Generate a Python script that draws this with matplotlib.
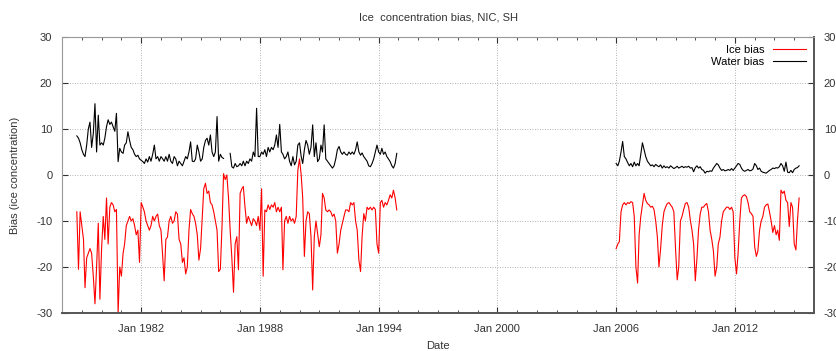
import numpy as np
import pandas as pd
import matplotlib
matplotlib.use("Agg")
import matplotlib.pyplot as plt
import matplotlib.dates as mdates

plt.rcParams["font.family"] = ["Liberation Sans", "DejaVu Sans"]
plt.rcParams["axes.unicode_minus"] = False

nan = np.nan

# Monthly values, first block Oct 1978 - Dec 1994
water_1 = [
    8.5, 8.0, 7.0,                                                   # 1978 Oct-Dec
    5.5, 4.5, 4.0, 6.5, 10.0, 11.5, 6.0, 9.0, 15.5, 5.0, 13.0, 6.5,  # 1979
    7.0, 6.5, 8.0, 10.5, 12.0, 11.0, 11.5, 10.5, 9.5, 13.4, 2.9, 5.8,  # 1980
    5.0, 4.7, 6.5, 7.0, 9.4, 7.5, 6.0, 5.5, 4.5, 4.0, 4.3, 3.5,     # 1981
    3.2, 2.9, 2.5, 3.5, 2.8, 4.0, 3.0, 4.5, 6.5, 3.5, 4.0, 3.0,     # 1982
    4.0, 3.5, 3.0, 4.0, 3.0, 4.5, 3.0, 2.5, 4.0, 3.5, 2.0, 3.0,     # 1983
    2.5, 2.0, 3.0, 4.0, 3.5, 5.0, 7.2, 3.0, 2.9, 3.5, 6.5, 5.0,     # 1984
    3.0, 3.5, 6.0, 7.5, 8.0, 6.5, 8.7, 5.0, 4.0, 5.0, 12.7, 3.0,    # 1985
    4.5, 3.8, 3.6, nan, nan, nan, 4.7, 1.8, 1.5, 2.5, 1.8, 2.0,     # 1986
    2.5, 2.0, 3.0, 2.0, 3.0, 2.5, 3.5, 3.0, 5.0, 4.0, 14.5, 4.0,    # 1987
    4.0, 5.0, 4.5, 5.5, 4.0, 6.0, 5.0, 6.0, 5.5, 6.5, 8.7, 6.0,     # 1988
    11.0, 5.0, 4.5, 3.5, 4.0, 5.0, 3.0, 2.0, 4.0, 2.2, 3.0, 6.5,    # 1989
    7.0, 4.0, 2.5, 5.5, 7.5, 6.5, 4.5, 6.0, 10.9, 4.0, 7.0, 2.9,    # 1990
    3.5, 6.5, 5.0, 10.9, 3.5, 3.0, 2.5, 2.0, 1.5, 2.0, 3.5, 5.5,    # 1991
    6.2, 5.0, 4.5, 5.0, 4.5, 4.3, 5.0, 4.5, 5.0, 4.5, 5.5, 7.2,     # 1992
    5.0, 4.3, 4.8, 4.0, 3.5, 3.0, 2.0, 1.8, 2.5, 3.5, 5.0, 6.5,     # 1993
    5.0, 4.5, 5.8, 4.5, 5.0, 4.0, 3.5, 2.9, 2.0, 1.5, 2.5, 4.7,     # 1994
]

ice_1 = [
    -8, -20.5, -8,                                                   # 1978 Oct-Dec
    -11, -14, -24.5, -18, -17, -16, -17, -22, -28, -20, -10.5, -27,  # 1979
    -16, -9, -14, -5, -15, -7, -6, -6.5, -8, -7.5, -30, -20,         # 1980
    -22, -17, -15, -11, -10, -9, -10, -9.5, -11, -13, -12, -19,      # 1981
    -6, -7, -8, -10, -11, -12, -11, -9, -10, -9, -8.5, -11,          # 1982
    -12, -17.5, -23, -14, -13.5, -10, -9, -10.5, -10, -8, -8.5, -14,  # 1983
    -15, -19, -18, -21.5, -20, -12, -7.5, -8.4, -9, -10.5, -13, -18.5,  # 1984
    -16, -9, -3, -1.8, -4, -3.5, -6, -6.5, -8, -10, -12, -21,        # 1985
    -20.5, -11, 0.3, -1, 0, -5, -12, -18, -25.5, -15, -13.4, -20.6,  # 1986
    -4, -3, -2.5, -7, -10.5, -9, -10, -11, -9.5, -10, -11, -9,       # 1987
    -12, -3, -22, -7.6, -8, -6.5, -7.5, -6.5, -7, -6, -8, -7,        # 1988
    -8, -7, -20.6, -10, -9, -10.5, -9, -10, -9.5, -10.5, -9, 1,      # 1989
    3.5, 0, -5, -17.7, -10, -8, -8.4, -13.4, -25, -13.4, -10, -12.7,  # 1990
    -15.6, -13, -4, -5, -7.6, -8, -7.6, -8, -9, -8.5, -10, -17,      # 1991
    -15, -12, -10.5, -9, -7.6, -7.6, -8, -6, -6.5, -6, -10, -12,     # 1992
    -18.5, -21, -13.4, -8.4, -10, -7, -7.5, -7, -7.6, -7, -7.5, -15,  # 1993
    -17, -6, -5.5, -7, -6, -6.5, -5.5, -4.3, -5, -3.3, -5, -7.6,     # 1994
]

# Second block Jan 2006 - Apr 2015
water_2 = [
    2.5, 2.0, 3.0, 5.0, 7.3, 4.0, 3.5, 2.7, 2.0, 2.5, 1.8, 2.8,     # 2006
    2.0, 2.5, 2.0, 4.5, 7.0, 5.5, 4.0, 3.0, 2.5, 2.0, 2.2, 1.8,     # 2007
    2.3, 2.0, 1.8, 2.2, 1.5, 2.0, 1.6, 1.8, 1.5, 2.0, 1.7, 1.4,     # 2008
    1.6, 1.9, 1.5, 1.7, 1.9, 1.6, 1.8, 1.7, 1.9, 1.5, 1.6, 0.7,     # 2009
    1.6, 2.0, 1.5, 1.8, 1.2, 1.0, 0.4, 0.8, 0.7, 0.9, 0.8, 1.5,     # 2010
    2.0, 2.5, 2.2, 1.5, 1.0, 1.2, 0.9, 1.0, 1.2, 1.0, 1.4, 1.0,     # 2011
    1.5, 2.0, 2.5, 2.3, 1.5, 1.0, 0.8, 1.0, 1.2, 0.9, 1.0, 1.3,     # 2012
    2.5, 2.0, 1.2, 1.5, 0.8, 0.6, 0.5, 0.4, 0.7, 1.0, 1.2, 1.5,     # 2013
    1.4, 1.6, 1.5, 1.8, 2.5, 2.0, 0.8, 2.8, 0.6, 0.5, 1.0, 0.5,     # 2014
    1.2, 1.5, 1.6, 2.0,                                              # 2015 Jan-Apr
]

ice_2 = [
    -16, -15, -14.5, -8, -6.5, -6, -6.5, -6, -6.2, -5.8, -6, -9,     # 2006
    -20, -23.5, -13, -9, -6.5, -4, -5.5, -6.2, -6.5, -7, -6.8, -7.5,  # 2007
    -10, -13.5, -20, -16, -11, -8, -7, -6.2, -6, -6.5, -7, -8,       # 2008
    -16, -22.8, -20, -10, -9, -7.5, -6.2, -6, -7, -9.8, -12, -15,    # 2009
    -23, -18, -12, -8.5, -7, -7, -6.5, -6.2, -8, -12, -14, -16.5,    # 2010
    -22, -20, -15, -13.5, -10, -8, -7.5, -7, -7, -7.5, -7, -8,       # 2011
    -18, -21.5, -17, -10, -5, -4.5, -4.3, -4.7, -6, -8, -8.4, -9,    # 2012
    -15.6, -17.7, -16.5, -12, -10, -9, -7, -6.5, -6.3, -8, -10, -12.5,  # 2013
    -11, -13, -12, -14.2, -3.3, -4, -3.5, -5.5, -6, -11.2, -6, -7,   # 2014
    -15, -16.3, -10, -5,                                             # 2015 Jan-Apr
]

tick_dates = ["1982-01-01", "1988-01-01", "1994-01-01", "2000-01-01", "2006-01-01", "2012-01-01"]
tick_labels = ["Jan 1982", "Jan 1988", "Jan 1994", "Jan 2000", "Jan 2006", "Jan 2012"]
y_ticks = [-30, -20, -10, 0, 10, 20, 30]

dates_1 = pd.date_range("1978-10-01", periods=len(water_1), freq="MS")
dates_2 = pd.date_range("2006-01-01", periods=len(water_2), freq="MS")

fig = plt.figure(figsize=(8.36, 3.51), dpi=100)
ax = fig.add_axes([0.0742, 0.1083, 0.8995, 0.7863])

ax.plot(dates_1, ice_1, color="#ff0000", lw=0.8, label="Ice bias")
ax.plot(dates_2, ice_2, color="#ff0000", lw=0.8)
ax.plot(dates_1, water_1, color="black", lw=0.8, label="Water bias")
ax.plot(dates_2, water_2, color="black", lw=0.8)

ax.set_xlim(pd.Timestamp("1978-01-01"), pd.Timestamp("2016-01-01"))
ax.set_ylim(-30, 30)
ax.set_yticks(y_ticks)
ax.set_xticks(pd.to_datetime(tick_dates))
ax.set_xticklabels(tick_labels)
ax.xaxis.set_minor_locator(mdates.YearLocator(1))

ax.grid(True, which="major", color="#999999", lw=0.6, linestyle=(0, (1, 2)))
ax.tick_params(which="both", direction="in", top=True, right=True,
               labelright=True, labelsize=8, colors="#333333")
ax.tick_params(which="major", length=4)
ax.tick_params(which="minor", length=2)
ax.tick_params(axis="x", pad=8)
ax.tick_params(axis="y", pad=7)

for side in ["left", "top"]:
    ax.spines[side].set_color("#999999")
    ax.spines[side].set_linewidth(0.8)
for side in ["bottom", "right"]:
    ax.spines[side].set_color("#555555")
    ax.spines[side].set_linewidth(1.4)

ax.set_title("Ice  concentration bias, NIC, SH", fontsize=8, color="#333333", pad=12)
ax.set_xlabel("Date", fontsize=8, color="#333333", labelpad=5)
ax.set_ylabel("Bias (ice concentration)", fontsize=8, color="#333333", labelpad=12)

ax.legend(loc="upper right", frameon=False, markerfirst=False, fontsize=8,
          handlelength=3.0, labelspacing=0.2, borderaxespad=0.3)

fig.savefig("out.png", dpi=100)
